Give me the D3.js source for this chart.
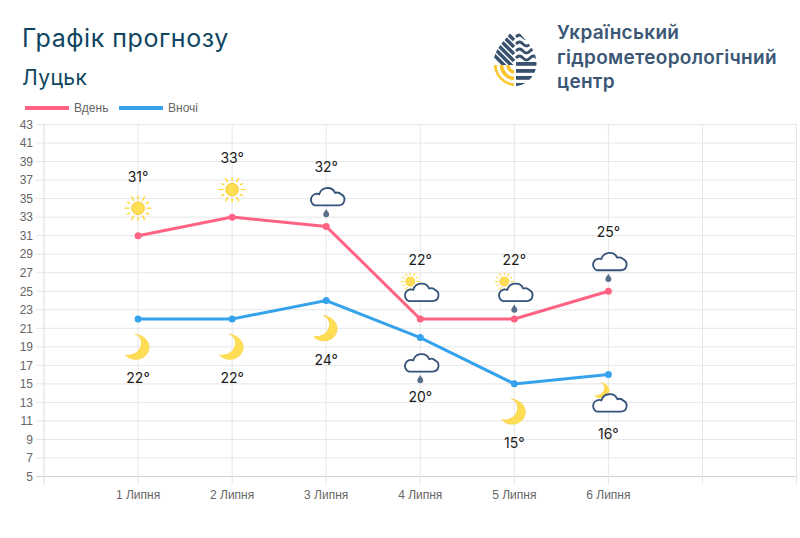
<!DOCTYPE html>
<html><head><meta charset="utf-8">
<script src="https://cdn.jsdelivr.net/npm/d3@7"></script>
<style>
html,body{margin:0;padding:0;background:#fff}
svg{display:block}
</style></head><body>
<svg id="chart" width="800" height="538"></svg>
<script>
// Forecast data
const days = ["1 Липня","2 Липня","3 Липня","4 Липня","5 Липня","6 Липня"];
const slots = [...days, "d7", "d8"];
const dayTemps = [31,33,32,22,22,25];
const nightTemps = [22,22,24,20,15,16];
const dayIcons = ["sun","sun","rain","partly","partlyrain","rain"];
const nightIcons = ["moon","moon","moon","rain","moon","mooncloud"];
const yTicks = d3.range(5,44,2);
const legendItems = [["Вдень","#ff6384"],["Вночі","#36a2eb"]];
const logoLines = ["Український","гідрометеорологічний","центр"];

const svg = d3.select("#chart");
const titleFont = "Inter, 'Open Sans', sans-serif";
const axisFont = "'Liberation Sans', Arial, sans-serif";
const navy = "#0f4560", cloudInk = "#34527a";

const x = d3.scalePoint().domain(["start",...slots]).range([44,796.5]);
const y = d3.scaleLinear().domain([5,43]).range([476.5,124.5]);

// Headings
svg.append("text").attr("x",22).attr("y",47).attr("font-family",titleFont)
  .attr("font-size",25).attr("letter-spacing",0.55).attr("fill",navy).text("Графік прогнозу");
svg.append("text").attr("x",22).attr("y",85).attr("font-family",titleFont)
  .attr("font-size",21).attr("letter-spacing",0.4).attr("fill",navy).text("Луцьк");

// Legend
const legendX = [25,119];
legendItems.forEach(([name,c],i)=>{
  svg.append("rect").attr("x",legendX[i]).attr("y",106).attr("width",44).attr("height",4).attr("fill",c);
  svg.append("text").attr("x",legendX[i]+49).attr("y",112).attr("font-family",axisFont)
    .attr("font-size",12).attr("fill","#666").text(name);
});

// Grid
const grid = svg.append("g").attr("stroke","#e4e4e4").attr("stroke-width",1).attr("fill","none");
yTicks.forEach(t=>{
  grid.append("line").attr("x1",36).attr("x2",797).attr("y1",y(t)).attr("y2",y(t))
    .attr("stroke", t===5 ? "#cfcfcf" : "#e6e6e6");
});
["start",...slots].forEach(d=>{
  grid.append("line").attr("x1",x(d)).attr("x2",x(d)).attr("y1",124).attr("y2",484.5)
    .attr("stroke", d==="start" ? "#dcdcdc" : "#e6e6e6");
});

// Axis labels
svg.append("g").selectAll("text").data(yTicks).join("text")
  .attr("x",33).attr("y",d=>y(d)+4.3).attr("text-anchor","end")
  .attr("font-family",axisFont).attr("font-size",12).attr("fill","#666").text(d=>d);
svg.append("g").selectAll("text").data(days).join("text")
  .attr("x",d=>x(d)).attr("y",499).attr("text-anchor","middle")
  .attr("font-family",axisFont).attr("font-size",12).attr("fill","#666").text(d=>d);

// Weather glyphs, each drawn around (0,0)
function sun(g){
  const rays = g.append("g").attr("stroke","#ffd83a").attr("stroke-width",1.4).attr("stroke-linecap","round");
  d3.range(12).forEach(i=>{
    const a=i*Math.PI/6, r1=i%2?9.5:9, r2=i%2?12:13;
    rays.append("line").attr("x1",r1*Math.cos(a)).attr("y1",r1*Math.sin(a))
      .attr("x2",r2*Math.cos(a)).attr("y2",r2*Math.sin(a));
  });
  g.append("circle").attr("r",6.3).attr("fill","#ffdd55").attr("stroke","#fbc92c").attr("stroke-width",1);
}
function moon(g){
  g.append("path").attr("d","M-3,-12.5 C4,-10 5,-2 1,3.5 C-3,8 -8,9 -12.5,8.5 C-8,14 2,14.5 7.5,9 C14.5,1.5 11,-10 -3,-12.5 Z")
    .attr("fill","#ffdd55").attr("stroke","#f9cf3c").attr("stroke-width",0.6);
}
function cloud(g){
  g.append("path").attr("d","M-11.5,9.5 H12.5 A5.8,5.8 0 0 0 15,-1.5 A5.6,5.6 0 0 0 9,-3 A8.6,8.6 0 0 0 -7,-1.7 A5.7,5.7 0 0 0 -11.5,9.5 Z")
    .attr("fill","#fff").attr("stroke",cloudInk).attr("stroke-width",1.8);
}
function drop(g,dy){
  g.append("path").attr("transform",`translate(0,${dy})`).attr("d","M0,-4 C1,-2 3,-0.5 3,1.3 A3,3 0 0 1 -3,1.3 C-3,-0.5 -1,-2 0,-4 Z")
    .attr("fill","#587089");
}
const glyphs = {
  sun,
  moon,
  rain(g){ g.attr("transform",g.attr("transform")+" translate(0,-3)"); cloud(g); drop(g,17); },
  partly(g){ sun(g.append("g").attr("transform","translate(-10,-10) scale(.72)")); cloud(g); },
  partlyrain(g){ glyphs.partly(g); drop(g,17); },
  mooncloud(g){ moon(g.append("g").attr("transform","translate(-6,-12) scale(.62)")); cloud(g); }
};

const series = [
  {vals:nightTemps,color:"#36a2eb",icons:nightIcons,side:1},
  {vals:dayTemps,color:"#ff6384",icons:dayIcons,side:-1}
];

// Lines and points
const line = d3.line().x((d,i)=>x(days[i])).y(d=>y(d));
series.forEach(s=>{
  svg.append("path").attr("d",line(s.vals)).attr("fill","none").attr("stroke",s.color).attr("stroke-width",3);
  svg.append("g").selectAll("circle").data(s.vals).join("circle")
    .attr("cx",(d,i)=>x(days[i])).attr("cy",d=>y(d)).attr("r",3.5).attr("fill",s.color);
});

// Icons and value labels
series.forEach(s=>{
  s.vals.forEach((v,i)=>{
    const cx=x(days[i]), cy=y(v), name=s.icons[i];
    const g=svg.append("g").attr("transform",`translate(${cx},${cy+s.side*27.5})`);
    glyphs[name](g);
    svg.append("text").attr("x",cx).attr("y",cy+s.side*59+5).attr("text-anchor","middle")
      .attr("font-family",titleFont).attr("font-size",14).attr("fill","#1c1c1c").text(v+"°");
  });
});

// Organisation mark: a drop split into stripes, waves and sun arcs
const logo = svg.append("g").attr("transform","translate(515,56)");
const dropPath = "M0,-31 C5,-18 21.5,-10 21.5,7 C21.5,20 11,30 0,30 C-11,30 -21.5,20 -21.5,7 C-21.5,-10 -5,-18 0,-31 Z";
svg.append("clipPath").attr("id","logo-clip").append("path").attr("d",dropPath);
const lg = logo.append("g").attr("clip-path","url(#logo-clip)");
const steel = "#39536f", gold = "#fcc72e";
[-1,5.5,12,18.5,25].forEach((yy,i)=>{
  if(i>0) lg.append("rect").attr("x",-22+22).attr("y",yy+2).attr("width",0).attr("height",0);
});
[6,13,20,27].forEach(yy=>{
  lg.append("rect").attr("x",1).attr("y",yy).attr("width",22).attr("height",3.8).attr("fill",steel);
});
[-19,-12,-5,2].forEach(yy=>{
  lg.append("path").attr("d",`M1,${yy} q3.5,-4 7,0 t7,0 t7,0`).attr("fill","none").attr("stroke",steel).attr("stroke-width",2.8);
});
[-30,-23,-16,-9,-2,5].forEach(yy=>{
  lg.append("line").attr("x1",-1).attr("y1",yy+14).attr("x2",-24).attr("y2",yy-9).attr("stroke",steel).attr("stroke-width",3.6);
});
lg.append("rect").attr("x",-22).attr("y",9).attr("width",22).attr("height",22).attr("fill","#fff");
[6,12.5,19].forEach(r=>{
  lg.append("path").attr("d",`M-${r+1},9 A${r+1},${r+1} 0 0 0 -1,${10+r}`).attr("fill","none").attr("stroke",gold).attr("stroke-width",3.6);
});
logoLines.forEach((t,i)=>{
  svg.append("text").attr("x",557).attr("y",39+i*24.5).attr("font-family",titleFont)
    .attr("font-size",19).attr("font-weight",600).attr("letter-spacing",0.3).attr("fill","#3c5775").text(t);
});
</script>
</body></html>
